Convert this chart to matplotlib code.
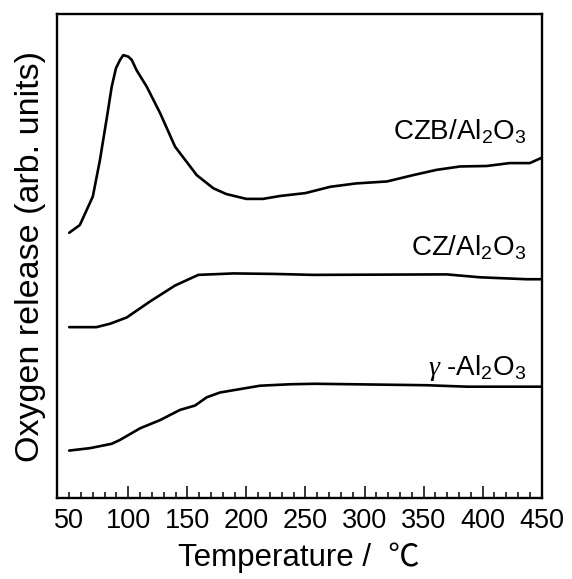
import matplotlib
matplotlib.use("Agg")
import matplotlib.pyplot as plt
from matplotlib.ticker import MultipleLocator

plt.rcParams['font.family'] = ['Liberation Sans', 'Noto Sans CJK JP', 'DejaVu Sans']
plt.rcParams['mathtext.fontset'] = 'custom'
plt.rcParams['mathtext.rm'] = 'Liberation Sans'
plt.rcParams['mathtext.it'] = 'Liberation Serif:italic'
plt.rcParams['mathtext.default'] = 'regular'

# ---- data (temperature in degC, signal in arbitrary units, curves offset) ----
czb_T = [50, 59, 70, 76, 82, 86, 89.6, 93, 95.8, 100, 103, 107, 115.6, 127, 139.6,
         158, 172, 183, 200, 214, 228.5, 250, 271, 293, 319, 341, 361, 381, 403.5,
         423, 440, 450]
czb_y = [5.48, 5.64, 6.23, 6.98, 7.88, 8.50, 8.88, 9.05, 9.15, 9.12, 9.05, 8.84, 8.50,
         7.95, 7.26, 6.67, 6.40, 6.28, 6.18, 6.18, 6.24, 6.30, 6.43, 6.50, 6.54, 6.67,
         6.78, 6.85, 6.86, 6.92, 6.92, 7.03]

cz_T = [50, 73, 84.5, 98.7, 118.4, 139.6, 159.3, 189, 222.8, 256.4, 369.6, 397.8,
        437.4, 450]
cz_y = [3.53, 3.53, 3.60, 3.73, 4.06, 4.39, 4.61, 4.64, 4.63, 4.61, 4.62, 4.56,
        4.52, 4.52]

gam_T = [50, 67.6, 86, 93, 110, 127, 143.8, 156.5, 166.4, 177.7, 194.6, 211.6, 237,
         258, 352.7, 386.6, 450]
gam_y = [0.98, 1.03, 1.12, 1.20, 1.44, 1.61, 1.82, 1.91, 2.08, 2.18, 2.25, 2.32, 2.35,
         2.36, 2.33, 2.30, 2.30]

labels = ["CZB/Al$_2$O$_3$", "CZ/Al$_2$O$_3$", r"$\mathit{\gamma}$ -Al$_2$O$_3$"]
x_ticks = [50, 100, 150, 200, 250, 300, 350, 400, 450]

fig = plt.figure(figsize=(5.72, 5.79), dpi=100)
ax = fig.add_axes([0.0991, 0.1399, 0.8479, 0.8359])

for T, y in [(czb_T, czb_y), (cz_T, cz_y), (gam_T, gam_y)]:
    ax.plot(T, y, color='black', lw=1.9, solid_joinstyle='round', solid_capstyle='round')

ax.set_xlim(39.4, 450)
ax.set_ylim(0, 10)
ax.set_xticks(x_ticks)
ax.xaxis.set_minor_locator(MultipleLocator(10))
ax.set_yticks([])
ax.tick_params(axis='x', which='major', direction='in', length=8.6, width=1.1,
               labelsize=19.5, pad=7.5, top=False)
ax.tick_params(axis='x', which='minor', direction='in', length=4.3, width=1.1, top=False)
# the first (50) tick mark is drawn short in the original
ax.xaxis.get_major_ticks()[0].tick1line.set_markersize(4.3)
for s in ax.spines.values():
    s.set_linewidth(1.7)

ax.set_xlabel("Temperature /  ℃", fontsize=22.5, labelpad=6)
ax.set_ylabel("Oxygen release (arb. units)", fontsize=24.5, labelpad=8)

ax.text(437, 7.40, labels[0], fontsize=20, ha='right', va='baseline')
ax.text(437, 5.02, labels[1], fontsize=20, ha='right', va='baseline')
ax.text(437, 2.54, labels[2], fontsize=20, ha='right', va='baseline')

fig.savefig("out.png", dpi=100)
